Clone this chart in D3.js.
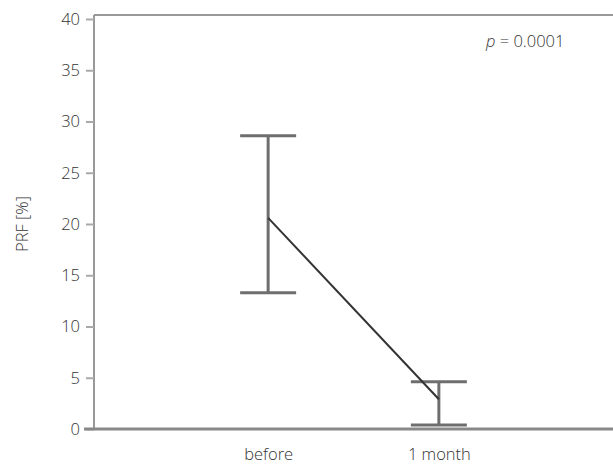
<!DOCTYPE html>
<html lang="en">
<head>
<meta charset="UTF-8">
<title>PRF before / 1 month</title>
<script src="https://cdn.jsdelivr.net/npm/d3@7/dist/d3.min.js"></script>
<style>
  body { margin: 0; background: #fff; }
  text { font-family: "Open Sans", "Noto Sans", sans-serif; fill: #333; }
</style>
</head>
<body>
<script>
// data
var categories = ["before", "1 month"];
var means = [20.6, 2.9];
var upper = [28.6, 4.6];
var lower = [13.3, 0.4];
var yTicks = [0, 5, 10, 15, 20, 25, 30, 35, 40];

var w = 613, h = 464;
var mLeft = 94, mRight = 613, mTop = 19, mBottom = 429;
var fs = "16.5px";

var svg = d3.select("body").append("svg")
  .attr("width", w)
  .attr("height", h);

var x = d3.scalePoint().domain(categories).range([mLeft, mRight]).padding(1.02);
var y = d3.scaleLinear().domain([0, 40]).range([mBottom, mTop]);

// frame: top line
svg.append("line")
  .attr("x1", mLeft).attr("x2", mRight)
  .attr("y1", 15).attr("y2", 15)
  .attr("stroke", "#999").attr("stroke-width", 2);

// y axis
var yAxis = d3.axisLeft(y).tickValues(yTicks).tickSize(8).tickPadding(6);
var gy = svg.append("g").attr("transform", "translate(" + mLeft + ",0)").call(yAxis);
gy.select(".domain").attr("stroke", "#999").attr("stroke-width", 2).attr("d", "M0,15V" + mBottom);
gy.selectAll(".tick line").attr("stroke", "#aaa").attr("stroke-width", 2);
gy.selectAll(".tick text").style("font-size", fs).style("font-weight", 300).attr("fill", "#333");

// x axis
var xAxis = d3.axisBottom(x).tickSize(0).tickPadding(19);
var gx = svg.append("g").attr("transform", "translate(0," + mBottom + ")").call(xAxis);
gx.select(".domain").remove();
gx.append("line")
  .attr("x1", 84).attr("x2", mRight)
  .attr("y1", 0).attr("y2", 0)
  .attr("stroke", "#888").attr("stroke-width", 3);
gx.selectAll(".tick text").style("font-size", fs).style("font-weight", 300).attr("fill", "#333");

// error bars
var capHalf = 28;
var bars = svg.append("g");
categories.forEach(function(c, i) {
  var cx = x(c);
  bars.append("line")
    .attr("x1", cx).attr("x2", cx)
    .attr("y1", y(upper[i])).attr("y2", y(lower[i]))
    .attr("stroke", "#6e6e6e").attr("stroke-width", 3);
  [upper[i], lower[i]].forEach(function(v) {
    bars.append("line")
      .attr("x1", cx - capHalf).attr("x2", cx + capHalf)
      .attr("y1", y(v)).attr("y2", y(v))
      .attr("stroke", "#6e6e6e").attr("stroke-width", 3);
  });
});

// mean line
var line = d3.line()
  .x(function(d, i) { return x(categories[i]); })
  .y(function(d) { return y(d); });
svg.append("path")
  .datum(means)
  .attr("d", line)
  .attr("fill", "none")
  .attr("stroke", "#333")
  .attr("stroke-width", 2);

// y label
svg.append("text")
  .attr("transform", "translate(28," + ((mTop + mBottom) / 2) + ") rotate(-90)")
  .attr("text-anchor", "middle")
  .style("font-size", fs)
  .style("font-weight", 300)
  .text("PRF [%]");

// p value
var pt = svg.append("text")
  .attr("x", 486).attr("y", 47)
  .style("font-size", fs)
  .style("font-weight", 300);
pt.append("tspan").style("font-style", "italic").text("p");
pt.append("tspan").text(" = 0.0001");
</script>
</body>
</html>
